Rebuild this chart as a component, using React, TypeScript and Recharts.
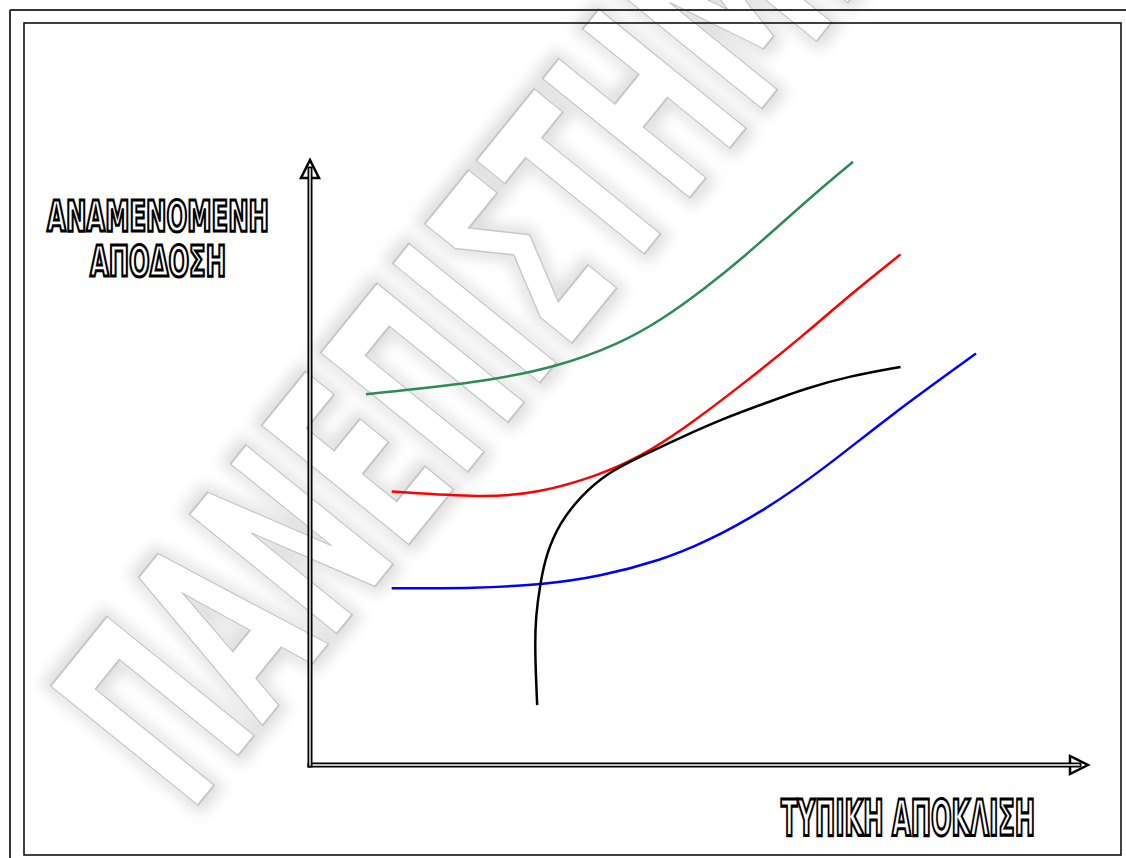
import React from 'react';
import { LineChart, Line, XAxis, YAxis, ReferenceLine } from 'recharts';

// Καμπύλες: τυπική απόκλιση (x) – αναμενόμενη απόδοση (y), σε σχετικές μονάδες 0–100
const greenX = [7.2, 21.3, 31.9, 39.9, 45.2, 50.5, 55.8, 61.1, 66.4, 69.8];
const greenY = [61.3, 63.1, 65.8, 69.7, 73.6, 78.5, 84.0, 90.1, 96.1, 99.7];

const redX = [10.5, 22.3, 29.3, 37.2, 42.5, 47.9, 55.8, 63.8, 69.1, 75.9];
const redY = [45.2, 44.2, 44.9, 47.9, 51.0, 55.4, 63.1, 71.4, 77.4, 84.4];

const blackX = [29.2, 28.9, 29.0, 29.6, 30.4, 32.1, 34.7, 38.1, 42.5, 47.9, 53.2, 58.5, 63.8, 69.1, 75.9];
const blackY = [9.9, 19.0, 24.5, 30.1, 35.0, 40.0, 44.3, 48.2, 51.0, 54.3, 57.3, 59.8, 62.3, 64.2, 65.8];

const blueX = [10.5, 21.3, 29.8, 37.2, 45.2, 50.5, 58.5, 66.4, 74.4, 85.6];
const blueY = [29.2, 29.2, 29.8, 31.1, 33.9, 36.6, 42.1, 49.3, 57.6, 68.0];

const yLabelLines = ['ΑΝΑΜΕΝΟΜΕΝΗ', 'ΑΠΟΔΟΣΗ'];
const xLabel = 'ΤΥΠΙΚΗ ΑΠΟΚΛΙΣΗ';
const watermark = 'ΠΑΝΕΠΙΣΤΗΜΙΟ';

const toPoints = (xs: number[], ys: number[]) => xs.map((x, i) => ({ x, y: ys[i] }));

const narrowFont = '"Liberation Sans Narrow", "DejaVu Sans Condensed", "Liberation Sans", sans-serif';

// άξονας με διπλή γραμμή και βέλος
const ArrowAxis = (props: any) => {
  const { x1, y1, x2, y2 } = props;
  const dx = x2 - x1;
  const dy = y2 - y1;
  const len = Math.sqrt(dx * dx + dy * dy) || 1;
  const ux = dx / len;
  const uy = dy / len;
  const px = -uy;
  const py = ux;
  const head = 18;
  const half = 9;
  const bx = x2 - ux * head;
  const by = y2 - uy * head;
  const ex = x2 - ux * 9;
  const ey = y2 - uy * 9;
  const tri = `${x2},${y2} ${bx + px * half},${by + py * half} ${bx - px * half},${by - py * half}`;
  return (
    <g>
      <polygon points={tri} fill="#fff" stroke="#000" strokeWidth={2.5} strokeLinejoin="miter" />
      <line x1={x1} y1={y1} x2={ex} y2={ey} stroke="#000" strokeWidth={5} strokeLinecap="square" />
      <line x1={x1} y1={y1} x2={ex} y2={ey} stroke="#fff" strokeWidth={1.4} strokeLinecap="square" />
    </g>
  );
};

export default function App() {
  const outlined = { fill: '#fff', stroke: '#000', strokeWidth: 2.2, fontWeight: 700, fontFamily: narrowFont } as const;
  return (
    <div style={{ position: 'absolute', left: 0, top: 0, width: 1126, height: 858, overflow: 'hidden', background: '#fff' }}>
      <svg width={1126} height={858} style={{ position: 'absolute', left: 0, top: 0 }}>
        <defs>
          <filter id="wmblur" x="-20%" y="-20%" width="140%" height="140%">
            <feGaussianBlur stdDeviation="7" />
          </filter>
        </defs>
        <g transform="translate(190,815) rotate(-51)" fontFamily={narrowFont} fontWeight={700} fontSize={260}>
          <text x={0} y={0} textLength={1200} lengthAdjust="spacingAndGlyphs" fill="none" stroke="#dedede" strokeWidth={18} filter="url(#wmblur)">
            {watermark}
          </text>
          <text x={0} y={0} textLength={1200} lengthAdjust="spacingAndGlyphs" fill="#fff" stroke="#c6c6c6" strokeWidth={2}>
            {watermark}
          </text>
        </g>
        <line x1={10} y1={10} x2={1126} y2={10} stroke="#333" strokeWidth={2} />
        <line x1={10} y1={10} x2={10} y2={858} stroke="#333" strokeWidth={2} />
        <rect x={24} y={23} width={1097} height={832} fill="none" stroke="#111" strokeWidth={1.6} />
        <g transform="translate(158,231) scale(1,1.4)">
          <text x={0} y={0} textAnchor="middle" fontSize={30} textLength={222} lengthAdjust="spacingAndGlyphs" {...outlined}>
            {yLabelLines[0]}
          </text>
        </g>
        <g transform="translate(158,276) scale(1,1.4)">
          <text x={0} y={0} textAnchor="middle" fontSize={30} textLength={136} lengthAdjust="spacingAndGlyphs" {...outlined}>
            {yLabelLines[1]}
          </text>
        </g>
        <g transform="translate(908,835) scale(1,1.45)">
          <text x={0} y={0} textAnchor="middle" fontSize={34} textLength={254} lengthAdjust="spacingAndGlyphs" {...outlined}>
            {xLabel}
          </text>
        </g>
      </svg>
      <div style={{ position: 'absolute', left: 0, top: 0 }}>
        <LineChart width={1126} height={858} margin={{ top: 160, right: 38, bottom: 93, left: 310 }}>
          <XAxis dataKey="x" type="number" domain={[0, 100]} hide allowDataOverflow />
          <YAxis dataKey="y" type="number" domain={[0, 100]} hide allowDataOverflow />
          <Line data={toPoints(greenX, greenY)} dataKey="y" type="basis" stroke="#2E8B57" strokeWidth={2.5} dot={false} isAnimationActive={false} />
          <Line data={toPoints(redX, redY)} dataKey="y" type="basis" stroke="#ff0000" strokeWidth={2.5} dot={false} isAnimationActive={false} />
          <Line data={toPoints(blueX, blueY)} dataKey="y" type="basis" stroke="#0000ff" strokeWidth={2.5} dot={false} isAnimationActive={false} />
          <Line data={toPoints(blackX, blackY)} dataKey="y" type="basis" stroke="#000" strokeWidth={2.5} dot={false} isAnimationActive={false} />
          <ReferenceLine segment={[{ x: 0, y: 0 }, { x: 100, y: 0 }]} ifOverflow="visible" shape={ArrowAxis} />
          <ReferenceLine segment={[{ x: 0, y: 0 }, { x: 0, y: 100 }]} ifOverflow="visible" shape={ArrowAxis} />
        </LineChart>
      </div>
    </div>
  );
}
